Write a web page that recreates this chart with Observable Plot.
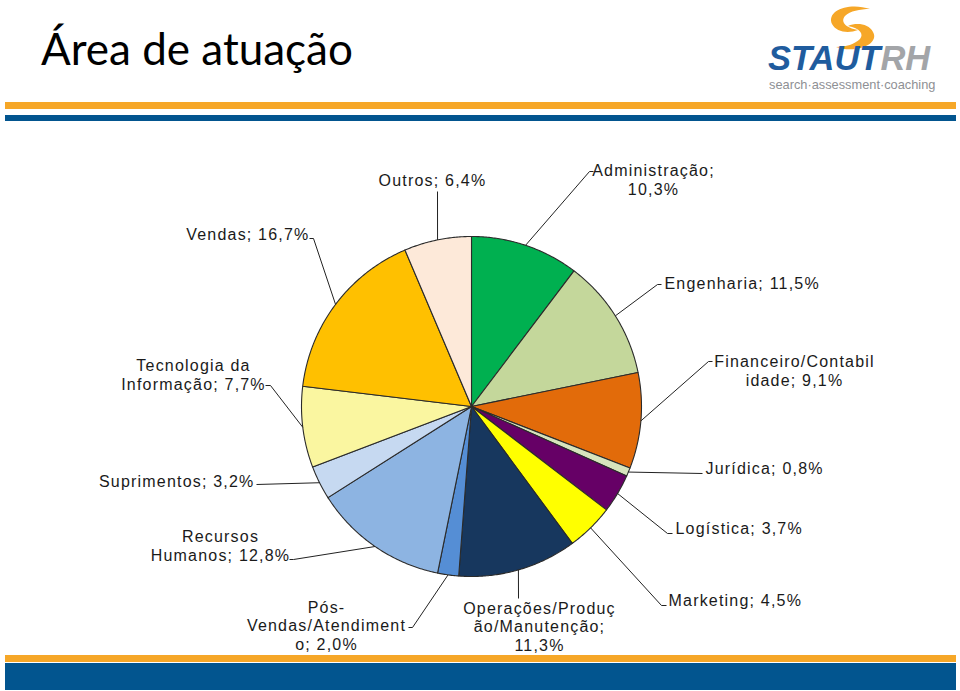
<!DOCTYPE html>
<html>
<head>
<meta charset="utf-8">
<script src="https://cdn.jsdelivr.net/npm/d3@7"></script>
<script src="https://cdn.jsdelivr.net/npm/@observablehq/plot@0.6"></script>
<style>
  html, body { margin: 0; padding: 0; background: #fff; }
  #page { position: relative; width: 960px; height: 691px; overflow: hidden; background: #fff; }
  #title { position: absolute; left: 41px; top: 22px; font-family: Lato, "Open Sans", sans-serif; font-size: 44px; color: #000; white-space: nowrap; }
  .bar { position: absolute; }
  #chart { position: absolute; left: 0; top: 0; }
  #logo { position: absolute; left: 760px; top: 0; overflow: visible; }
</style>
</head>
<body>
<div id="page">
  <div class="bar" style="left:5px; top:102px; width:951px; height:7px; background:#F6A728;"></div>
  <div class="bar" style="left:5px; top:115px; width:951px; height:6px; background:#02558F;"></div>
  <div class="bar" style="left:5px; top:655px; width:951px; height:7px; background:#F6A728;"></div>
  <div class="bar" style="left:5px; top:663px; width:951px; height:27px; background:#02558F;"></div>
  <div id="title">Área de atuação</div>
  <svg id="logo" width="200" height="100" viewBox="760 0 200 100">
    <path d="M870 9 C850 2 826 10 832 24 C836 32 848 34 858 30 C846 28 840 22 845 16 C850 11 860 9 870 9 Z" fill="#F6A728"/>
    <path d="M836 47 C856 54 880 44 873 32 C869 24 857 22 848 26 C860 28 864 34 860 39 C855 44 846 47 836 47 Z" fill="#F6A728"/>
    <text x="768" y="69.5" font-family="Liberation Sans, Arial, sans-serif" font-weight="bold" font-style="italic" font-size="34.5"><tspan fill="#1F5C9E">STAUT</tspan><tspan fill="#A3A5A8">RH</tspan></text>
    <text x="769" y="89" font-family="Liberation Sans, Arial, sans-serif" font-size="12.8" fill="#8E9094">search·assessment·coaching</text>
  </svg>
  <div id="chart"></div>
</div>
<script>
// ---- data ----
const categories = ["Administração","Engenharia","Financeiro/Contabilidade","Jurídica","Logística","Marketing","Operações/Produção/Manutenção","Pós-Vendas/Atendimento","Recursos Humanos","Suprimentos","Tecnologia da Informação","Vendas","Outros"];
const values = [10.3, 11.5, 9.1, 0.8, 3.7, 4.5, 11.3, 2.0, 12.8, 3.2, 7.7, 16.7, 6.4];
const labelTexts = ["Administração;\n10,3%","Engenharia; 11,5%","Financeiro/Contabil\nidade; 9,1%","Jurídica; 0,8%","Logística; 3,7%","Marketing; 4,5%","Operações/Produç\não/Manutenção;\n11,3%","Pós-\nVendas/Atendiment\no; 2,0%","Recursos\nHumanos; 12,8%","Suprimentos; 3,2%","Tecnologia da\nInformação; 7,7%","Vendas; 16,7%","Outros; 6,4%"];
const colors = ["#00B050","#C4D79B","#E26B0A","#D7E4BD","#660066","#FFFF00","#17375E","#558ED5","#8DB4E2","#C6D9F1","#FAF6A0","#FFC000","#FDE9D9"];

// ---- layout (pixel positions of label anchors and leader elbows) ----
const pieLayout = {cx: 471, cy: 406, r: 170};
const labelLayout = [
  {x: 653, y: 179, anchor: "middle", elbow: [[589,171],[593,171]]},
  {x: 664, y: 283, anchor: "start",  elbow: [[657,284],[661,284]]},
  {x: 794, y: 370, anchor: "middle", elbow: [[708,361],[712,361]]},
  {x: 705, y: 468, anchor: "start",  elbow: [[702,473]]},
  {x: 675, y: 528, anchor: "start",  elbow: [[667,533],[672,533]]},
  {x: 668, y: 600, anchor: "start",  elbow: [[661,605],[666,605]]},
  {x: 539, y: 626, anchor: "middle", elbow: [[518,598]]},
  {x: 326, y: 625, anchor: "middle", elbow: [[412,627],[408,627]]},
  {x: 220, y: 545, anchor: "middle", elbow: [[293,559],[289,559]]},
  {x: 254, y: 481, anchor: "end",    elbow: [[256,484]]},
  {x: 193, y: 374, anchor: "middle", elbow: [[270,385],[265,385]]},
  {x: 309, y: 234, anchor: "end",    elbow: [[313,238],[309,238]]},
  {x: 432, y: 180, anchor: "middle", elbow: [[437,191]]}
];

// ---- geometry from data ----
const arcs = d3.pie().sort(null).value(d => d)(values);
const {cx, cy, r} = pieLayout;
const pt = (a, rr) => ({x: cx + rr * Math.sin(a), y: cy - rr * Math.cos(a)});

const slices = arcs.map((a, i) => {
  const pts = [{x: cx, y: cy}];
  const n = Math.max(2, Math.ceil((a.endAngle - a.startAngle) / (Math.PI / 360)));
  for (let k = 0; k <= n; k++) pts.push(pt(a.startAngle + (a.endAngle - a.startAngle) * k / n, r));
  pts.push({x: cx, y: cy});
  return {name: categories[i], color: colors[i], pts};
});

const leaders = arcs.flatMap((a, i) => {
  const mid = (a.startAngle + a.endAngle) / 2;
  const p0 = pt(mid, r);
  return [{x: p0.x, y: p0.y, id: i}, ...labelLayout[i].elbow.map(([x, y]) => ({x, y, id: i}))];
});

const labels = labelTexts.map((t, i) => ({text: t, ...labelLayout[i]}));

const font = "'Liberation Sans', Arial, Helvetica, sans-serif";

const marks = [
  ...slices.map(s => Plot.line(s.pts, {x: "x", y: "y", fill: s.color, stroke: "#2b2b2b", strokeWidth: 1.1, strokeLinejoin: "round"})),
  Plot.line(leaders, {x: "x", y: "y", z: "id", stroke: "#222", strokeWidth: 1, strokeLinecap: "butt"}),
  ...["start", "middle", "end"].map(anc => Plot.text(labels.filter(d => d.anchor === anc), {
    x: "x", y: "y", text: "text", textAnchor: anc, lineAnchor: "middle", lineHeight: 1.15,
    fontSize: 16, fontFamily: font, fill: "#1a1a1a"
  }))
];

const chart = Plot.plot({
  width: 960, height: 691,
  margin: 0,
  x: {domain: [0, 960], range: [0, 960], axis: null},
  y: {domain: [0, 691], range: [0, 691], axis: null},
  style: {background: "transparent", letterSpacing: "1.2px", overflow: "visible"},
  marks
});
document.getElementById("chart").appendChild(chart);
</script>
</body>
</html>
